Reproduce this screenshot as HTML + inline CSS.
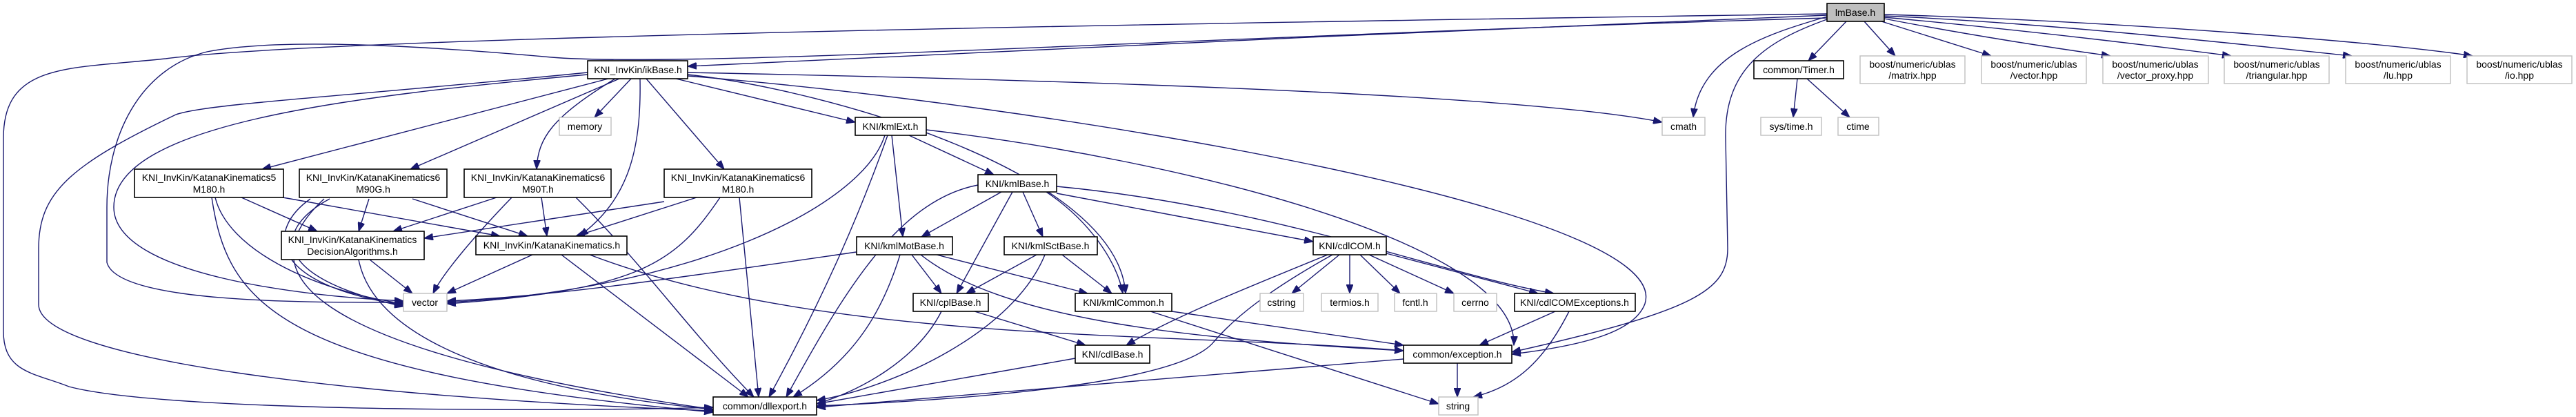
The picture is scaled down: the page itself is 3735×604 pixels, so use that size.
<!DOCTYPE html>
<html><head><meta charset="utf-8"><style>
html,body{margin:0;padding:0;background:#fff;width:3735px;height:604px;overflow:hidden}
svg text{font-family:"Liberation Sans",sans-serif;font-size:14px;text-anchor:middle;fill:#000}
.e{fill:none;stroke:#191970;stroke-width:1.4}
.n{fill:#fff;stroke:#000;stroke-width:1.6}
.x{fill:#fff;stroke:#bfbfbf;stroke-width:1.4}
</style></head><body>
<svg width="3735" height="604" viewBox="0 0 3735 604" xmlns="http://www.w3.org/2000/svg">
<defs><marker id="a" markerUnits="userSpaceOnUse" markerWidth="14" markerHeight="10" refX="13" refY="5" orient="auto"><path d="M0,0L13,5L0,10z" fill="#191970" stroke="#191970"/></marker></defs>
<g class="e" marker-end="url(#a)">
<path d="M2649,22 C2200,40 1300,80 997,96"/>
<path d="M2649,20 C2000,30 500,50 240,85 C100,100 5,90 5,200 L5,480 C5,540 50,540 100,560 C250,600 900,595 1034,590"/>
<path d="M2649,26 C1800,50 1000,100 800,83 C600,65 400,55 300,75 C200,100 155,200 155,300 L155,380 C170,440 450,438 585,438"/>
<path d="M2649,28 C2560,60 2500,100 2502,200 L2505,360 C2505,420 2460,450 2192,510"/>
<path d="M2649,24 C2560,50 2465,80 2455,170"/>
<path d="M2677,31 L2622,88"/>
<path d="M2703,31 L2748,81"/>
<path d="M2728,31 L2887,81"/>
<path d="M2732,27 C2850,50 2980,70 3060,81"/>
<path d="M2732,25 C2950,45 3150,70 3235,81"/>
<path d="M2732,23 C3000,35 3300,70 3410,81"/>
<path d="M2732,21 C3050,30 3450,60 3585,81"/>
<path d="M2606,114 L2600,170"/>
<path d="M2620,114 L2682,170"/>
<path d="M915,114 L862,170"/>
<path d="M882,114 L380,245"/>
<path d="M898,114 L595,245"/>
<path d="M892,114 C800,170 780,200 778,245"/>
<path d="M928,114 C930,220 910,290 840,342"/>
<path d="M937,114 L1050,245"/>
<path d="M980,114 L1240,177"/>
<path d="M997,105 C1500,115 2200,135 2410,177"/>
<path d="M997,108 C1200,130 1620,250 1632,425"/>
<path d="M997,110 C1500,150 2430,300 2385,440 C2370,480 2300,500 2192,513"/>
<path d="M852,108 C500,140 165,180 165,300 C165,400 450,430 585,436"/>
<path d="M852,105 C500,140 300,150 255,166 C100,240 56,280 56,360 L56,441 C56,520 500,575 1034,595"/>
<path d="M350,286 L460,335"/>
<path d="M410,286 L725,342"/>
<path d="M312,286 C330,360 450,420 585,440"/>
<path d="M307,286 C330,440 400,540 1034,597"/>
<path d="M535,288 L520,335"/>
<path d="M598,288 L765,342"/>
<path d="M450,288 C390,330 380,410 585,442"/>
<path d="M478,288 C400,330 385,400 585,444"/>
<path d="M470,288 C370,380 390,500 1034,593"/>
<path d="M720,286 L570,335"/>
<path d="M785,286 L793,342"/>
<path d="M742,286 C680,350 640,400 628,425"/>
<path d="M835,286 C930,380 1000,480 1093,575"/>
<path d="M963,292 L615,345"/>
<path d="M1010,286 L835,342"/>
<path d="M1044,286 C980,380 930,420 648,440"/>
<path d="M1072,286 L1100,575"/>
<path d="M536,376 L598,425"/>
<path d="M520,376 C540,480 700,560 1034,593"/>
<path d="M772,369 L648,425"/>
<path d="M814,369 L1085,575"/>
<path d="M855,369 C1200,500 1700,480 2035,508"/>
<path d="M1293,196 L1309,343"/>
<path d="M1318,196 L1441,253"/>
<path d="M1283,196 C1250,300 1000,420 648,438"/>
<path d="M1287,196 C1250,300 1200,420 1115,575"/>
<path d="M1343,188 C1700,230 2200,350 2195,500"/>
<path d="M1452,278 L1336,343"/>
<path d="M1468,278 L1387,425"/>
<path d="M1483,278 L1512,343"/>
<path d="M1517,278 C1580,320 1620,380 1628,425"/>
<path d="M1532,280 L1904,350"/>
<path d="M1532,270 C1850,300 2100,400 2253,425"/>
<path d="M1418,268 C1300,290 1220,430 1140,575"/>
<path d="M1322,369 L1365,425"/>
<path d="M1358,369 L1577,425"/>
<path d="M1335,369 C1450,460 1700,490 2035,508"/>
<path d="M1305,369 C1280,450 1240,520 1150,575"/>
<path d="M1242,365 C1000,400 800,430 648,436"/>
<path d="M1503,369 L1401,425"/>
<path d="M1540,369 L1612,425"/>
<path d="M1515,369 C1470,480 1300,560 1184,580"/>
<path d="M1942,369 L1873,425"/>
<path d="M1957,369 L1957,425"/>
<path d="M1972,369 L2030,425"/>
<path d="M1985,369 L2108,425"/>
<path d="M2010,367 L2230,425"/>
<path d="M1925,369 C1800,420 1700,460 1633,500"/>
<path d="M1932,369 C1840,420 1790,460 1760,495 C1720,545 1500,575 1184,588"/>
<path d="M1413,451 L1574,500"/>
<path d="M1365,451 C1330,520 1250,565 1184,585"/>
<path d="M1699,451 L2035,500"/>
<path d="M1668,451 L2086,585"/>
<path d="M2255,451 L2145,500"/>
<path d="M2275,451 C2240,520 2200,560 2136,575"/>
<path d="M1559,519 L1184,585"/>
<path d="M2035,520 L1184,590"/>
<path d="M2113,526 L2113,575"/>
</g>
<rect class="n" x="2649" y="5" width="83" height="26" style="fill:#bfbfbf"/><text x="2690" y="23">lmBase.h</text>
<rect class="n" x="852" y="88" width="145" height="26"/><text x="925" y="106">KNI_InvKin/ikBase.h</text>
<rect class="x" x="811" y="170" width="75" height="26"/><text x="848" y="188">memory</text>
<rect class="n" x="195" y="245" width="216" height="41"/><text x="303" y="262">KNI_InvKin/KatanaKinematics5</text><text x="303" y="279">M180.h</text>
<rect class="n" x="434" y="245" width="214" height="41"/><text x="541" y="262">KNI_InvKin/KatanaKinematics6</text><text x="541" y="279">M90G.h</text>
<rect class="n" x="673" y="245" width="213" height="41"/><text x="780" y="262">KNI_InvKin/KatanaKinematics6</text><text x="780" y="279">M90T.h</text>
<rect class="n" x="963" y="245" width="214" height="41"/><text x="1070" y="262">KNI_InvKin/KatanaKinematics6</text><text x="1070" y="279">M180.h</text>
<rect class="n" x="408" y="335" width="207" height="41"/><text x="511" y="352">KNI_InvKin/KatanaKinematics</text><text x="511" y="369">DecisionAlgorithms.h</text>
<rect class="n" x="690" y="342" width="219" height="27"/><text x="800" y="360">KNI_InvKin/KatanaKinematics.h</text>
<rect class="x" x="585" y="425" width="63" height="26"/><text x="616" y="443">vector</text>
<rect class="n" x="1034" y="575" width="150" height="26"/><text x="1109" y="593">common/dllexport.h</text>
<rect class="n" x="1240" y="170" width="103" height="26"/><text x="1291" y="188">KNI/kmlExt.h</text>
<rect class="n" x="1418" y="253" width="114" height="25"/><text x="1475" y="271">KNI/kmlBase.h</text>
<rect class="n" x="1242" y="343" width="139" height="26"/><text x="1311" y="361">KNI/kmlMotBase.h</text>
<rect class="n" x="1456" y="343" width="135" height="26"/><text x="1523" y="361">KNI/kmlSctBase.h</text>
<rect class="n" x="1904" y="343" width="106" height="26"/><text x="1957" y="361">KNI/cdlCOM.h</text>
<rect class="n" x="1324" y="425" width="109" height="26"/><text x="1378" y="443">KNI/cplBase.h</text>
<rect class="n" x="1559" y="425" width="140" height="26"/><text x="1629" y="443">KNI/kmlCommon.h</text>
<rect class="x" x="1827" y="425" width="63" height="26"/><text x="1858" y="443">cstring</text>
<rect class="x" x="1916" y="425" width="82" height="26"/><text x="1957" y="443">termios.h</text>
<rect class="x" x="2022" y="425" width="61" height="26"/><text x="2052" y="443">fcntl.h</text>
<rect class="x" x="2108" y="425" width="62" height="26"/><text x="2139" y="443">cerrno</text>
<rect class="n" x="2196" y="425" width="175" height="26"/><text x="2283" y="443">KNI/cdlCOMExceptions.h</text>
<rect class="n" x="1559" y="500" width="108" height="26"/><text x="1613" y="518">KNI/cdlBase.h</text>
<rect class="n" x="2035" y="500" width="157" height="26"/><text x="2113" y="518">common/exception.h</text>
<rect class="x" x="2086" y="575" width="57" height="26"/><text x="2114" y="593">string</text>
<rect class="x" x="2410" y="170" width="62" height="26"/><text x="2441" y="188">cmath</text>
<rect class="n" x="2543" y="88" width="130" height="26"/><text x="2608" y="106">common/Timer.h</text>
<rect class="x" x="2553" y="170" width="88" height="26"/><text x="2597" y="188">sys/time.h</text>
<rect class="x" x="2665" y="170" width="59" height="26"/><text x="2694" y="188">ctime</text>
<rect class="x" x="2697" y="81" width="152" height="40"/><text x="2773" y="98">boost/numeric/ublas</text><text x="2773" y="114">/matrix.hpp</text>
<rect class="x" x="2873" y="81" width="152" height="40"/><text x="2949" y="98">boost/numeric/ublas</text><text x="2949" y="114">/vector.hpp</text>
<rect class="x" x="3049" y="81" width="153" height="40"/><text x="3125" y="98">boost/numeric/ublas</text><text x="3125" y="114">/vector_proxy.hpp</text>
<rect class="x" x="3225" y="81" width="152" height="40"/><text x="3301" y="98">boost/numeric/ublas</text><text x="3301" y="114">/triangular.hpp</text>
<rect class="x" x="3401" y="81" width="152" height="40"/><text x="3477" y="98">boost/numeric/ublas</text><text x="3477" y="114">/lu.hpp</text>
<rect class="x" x="3577" y="81" width="152" height="40"/><text x="3653" y="98">boost/numeric/ublas</text><text x="3653" y="114">/io.hpp</text>
</svg>
</body></html>
